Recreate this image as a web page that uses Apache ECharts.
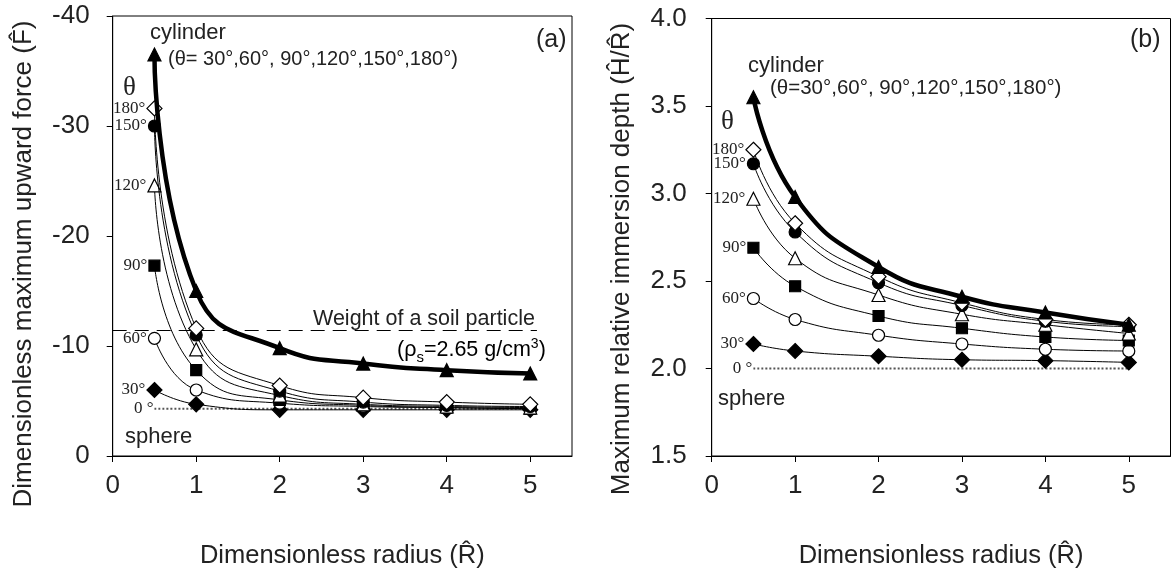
<!DOCTYPE html>
<html><head><meta charset="utf-8">
<script src="https://cdn.jsdelivr.net/npm/echarts@6/dist/echarts.min.js"></script>
<style>html,body{margin:0;padding:0;background:#fff}#c{width:1172px;height:574px}</style>
</head><body><div id="c"></div>
<script>
// ---- data ----
const radius = [0.5, 1, 2, 3, 4, 5];
const xTicks = [0, 1, 2, 3, 4, 5];
const thetaNames = ['cylinder', '180°', '150°', '120°', '90°', '60°', '30°', '0 °'];

const forceCylinder = [-36.5, -15.0, -9.8, -8.4, -7.8, -7.5];
const force180 = [-31.6, -11.6, -6.4, -5.3, -4.9, -4.7];
const force150 = [-30.0, -11.0, -5.9, -4.9, -4.6, -4.5];
const force120 = [-24.6, -9.7, -5.5, -4.7, -4.5, -4.4];
const force90 = [-17.3, -7.8, -5.1, -4.6, -4.4, -4.3];
const force60 = [-10.7, -6.0, -4.8, -4.5, -4.4, -4.3];
const force30 = [-6.0, -4.7, -4.2, -4.2, -4.2, -4.2];
const forceSphere = [-4.3, -4.3, -4.3, -4.3, -4.3, -4.3];
const soilWeight = -11.4;
const soilLineEnd = [0, 5.08];

const depthCylinder = [3.55, 2.98, 2.58, 2.41, 2.32, 2.25];
const depth180 = [3.25, 2.83, 2.525, 2.375, 2.28, 2.25];
const depth150 = [3.17, 2.78, 2.49, 2.36, 2.27, 2.24];
const depth120 = [2.97, 2.63, 2.42, 2.31, 2.25, 2.20];
const depth90 = [2.69, 2.47, 2.30, 2.23, 2.18, 2.16];
const depth60 = [2.40, 2.28, 2.19, 2.14, 2.11, 2.10];
const depth30 = [2.14, 2.10, 2.07, 2.05, 2.045, 2.035];
const depthSphere = [2.0, 2.0, 2.0, 2.0, 2.0, 2.0];

// ---- styles ----
const SANS = '"Liberation Sans", Arial, sans-serif';
const SERIF = '"Liberation Serif", "Times New Roman", serif';
const styles = [
  {symbol: 'triangle', size: 13, fill: '#000', width: 4.5, z: 10},
  {symbol: 'diamond', size: 15, fill: '#fff', width: 1, z: 9},
  {symbol: 'circle', size: 12, fill: '#000', width: 1, z: 8},
  {symbol: 'triangle', size: 13, fill: '#fff', width: 1, z: 7},
  {symbol: 'rect', size: 11, fill: '#000', width: 1, z: 6},
  {symbol: 'circle', size: 12, fill: '#fff', width: 1, z: 5},
  {symbol: 'diamond', size: 15, fill: '#000', width: 1, z: 4},
  {symbol: 'circle', size: 0, fill: '#000', width: 2, z: 3}
];

function makeSeries(vals, idx, axisIdx) {
  const st = styles[idx];
  const data = radius.map((r, i) => {
    const item = {value: [r, vals[i]]};
    if (i === 0 && idx > 0) {
      item.label = {show: true, position: 'left', distance: 1, formatter: thetaNames[idx],
        fontFamily: SERIF, fontSize: 17, color: '#222'};
    }
    return item;
  });
  return {
    type: 'line', xAxisIndex: axisIdx, yAxisIndex: axisIdx, data: data,
    smooth: 0.5,
    symbol: st.symbol, symbolSize: st.size, showSymbol: true,
    itemStyle: {color: st.fill, borderColor: '#000', borderWidth: 1.2},
    lineStyle: {color: idx === 7 ? '#555' : '#000', width: st.width, type: idx === 7 ? 'dotted' : 'solid'},
    z: st.z, silent: true, animation: false
  };
}

const forceSets = [forceCylinder, force180, force150, force120, force90, force60, force30, forceSphere];
const depthSets = [depthCylinder, depth180, depth150, depth120, depth90, depth60, depth30, depthSphere];

const series = [];
forceSets.forEach((v, i) => series.push(makeSeries(v, i, 0)));
depthSets.forEach((v, i) => series.push(makeSeries(v, i, 1)));
series[0].markLine = {
  silent: true, symbol: 'none', label: {show: false},
  lineStyle: {color: '#000', type: [14, 8], width: 1},
  data: [[{coord: [soilLineEnd[0], soilWeight]}, {coord: [soilLineEnd[1], soilWeight]}]]
};

function xAxis(gi) {
  return {
    type: 'value', gridIndex: gi, min: 0, max: 5.5, interval: 1,
    name: 'Dimensionless radius (R\u0302)', nameLocation: 'middle', nameGap: 87,
    nameTextStyle: {fontFamily: SANS, fontSize: 25.5, color: '#222'},
    axisLine: {lineStyle: {color: '#000', width: 1}},
    axisTick: {inside: false, length: 6, lineStyle: {color: '#000'}, customValues: xTicks},
    axisLabel: {fontFamily: SANS, fontSize: 26, color: '#222', margin: 17, customValues: xTicks},
    splitLine: {show: false}
  };
}
function yAxis(gi, cfg) {
  return Object.assign({
    type: 'value', gridIndex: gi,
    axisLine: {show: true, lineStyle: {color: '#000', width: 1}},
    axisTick: {show: true, inside: false, length: 6, lineStyle: {color: '#000'}},
    splitLine: {show: false}
  }, cfg);
}

const chart = echarts.init(document.getElementById('c'), null, {renderer: 'canvas'});
chart.setOption({
  backgroundColor: '#fff',
  animation: false,
  grid: [
    {left: 112.7, top: 16, width: 459.3, height: 445, show: true, borderColor: '#000', borderWidth: 1},
    {left: 711.7, top: 18.5, width: 458.8, height: 444, show: true, borderColor: '#000', borderWidth: 1}
  ],
  xAxis: [xAxis(0), xAxis(1)],
  yAxis: [
    yAxis(0, {min: -40, max: 0, interval: 10, inverse: true,
      axisLabel: {fontFamily: SANS, fontSize: 26, color: '#222', margin: 23}}),
    yAxis(1, {min: 1.5, max: 4.0, interval: 0.5,
      axisLabel: {fontFamily: SANS, fontSize: 26, color: '#222', margin: 25,
        formatter: v => v.toFixed(1)}})
  ],
  series: series,
  graphic: [
    {type: 'text', x: 24, y: 264, rotation: Math.PI / 2, style: {
      text: 'Dimensionless maximum upward force (F\u0302)', font: '26px ' + SANS, fill: '#222',
      align: 'center', verticalAlign: 'middle', textAlign: 'center', textVerticalAlign: 'middle'}},
    {type: 'text', x: 622, y: 259, rotation: Math.PI / 2, style: {
      text: 'Maximum relative immersion depth (H\u0302/R\u0302)', font: '26px ' + SANS, fill: '#222',
      align: 'center', verticalAlign: 'middle', textAlign: 'center', textVerticalAlign: 'middle'}},
    {type: 'text', left: 536, top: 28, style: {text: '(a)', font: '25px ' + SANS, fill: '#222'}},
    {type: 'text', left: 1130, top: 28, style: {text: '(b)', font: '25px ' + SANS, fill: '#222'}},
    {type: 'text', left: 150, top: 22, style: {text: 'cylinder', font: '22px ' + SANS, fill: '#222'}},
    {type: 'text', left: 168, top: 49, style: {text: '(θ= 30°,60°, 90°,120°,150°,180°)', font: '20px ' + SANS, fill: '#222'}},
    {type: 'text', left: 748, top: 55, style: {text: 'cylinder', font: '22px ' + SANS, fill: '#222'}},
    {type: 'text', left: 770, top: 78, style: {text: '(θ=30°,60°, 90°,120°,150°,180°)', font: '20.5px ' + SANS, fill: '#222'}},
    {type: 'text', left: 123, top: 74, style: {text: 'θ', font: '27px ' + SERIF, fill: '#222'}},
    {type: 'text', left: 721, top: 108, style: {text: 'θ', font: '27px ' + SERIF, fill: '#222'}},
    {type: 'text', left: 125, top: 426, style: {text: 'sphere', font: '22px ' + SANS, fill: '#222'}},
    {type: 'text', left: 718, top: 388, style: {text: 'sphere', font: '22px ' + SANS, fill: '#222'}},
    {type: 'text', left: 313, top: 308, style: {text: 'Weight of a soil particle', font: '21.5px ' + SANS, fill: '#222'}},
    {type: 'text', left: 397, top: 336, style: {
      text: '{a|(ρ}{s|s}{a|=2.65 g/cm}{p|3}{a|)}',
      rich: {
        a: {fontFamily: SANS, fontSize: 21.5, color: '#222', lineHeight: 28},
        s: {fontFamily: SANS, fontSize: 15, color: '#222', lineHeight: 28, padding: [14, 0, 0, 0]},
        p: {fontFamily: SANS, fontSize: 14, color: '#222', lineHeight: 28, padding: [0, 0, 12, 0]}
      }}}
  ]
});
</script></body></html>
